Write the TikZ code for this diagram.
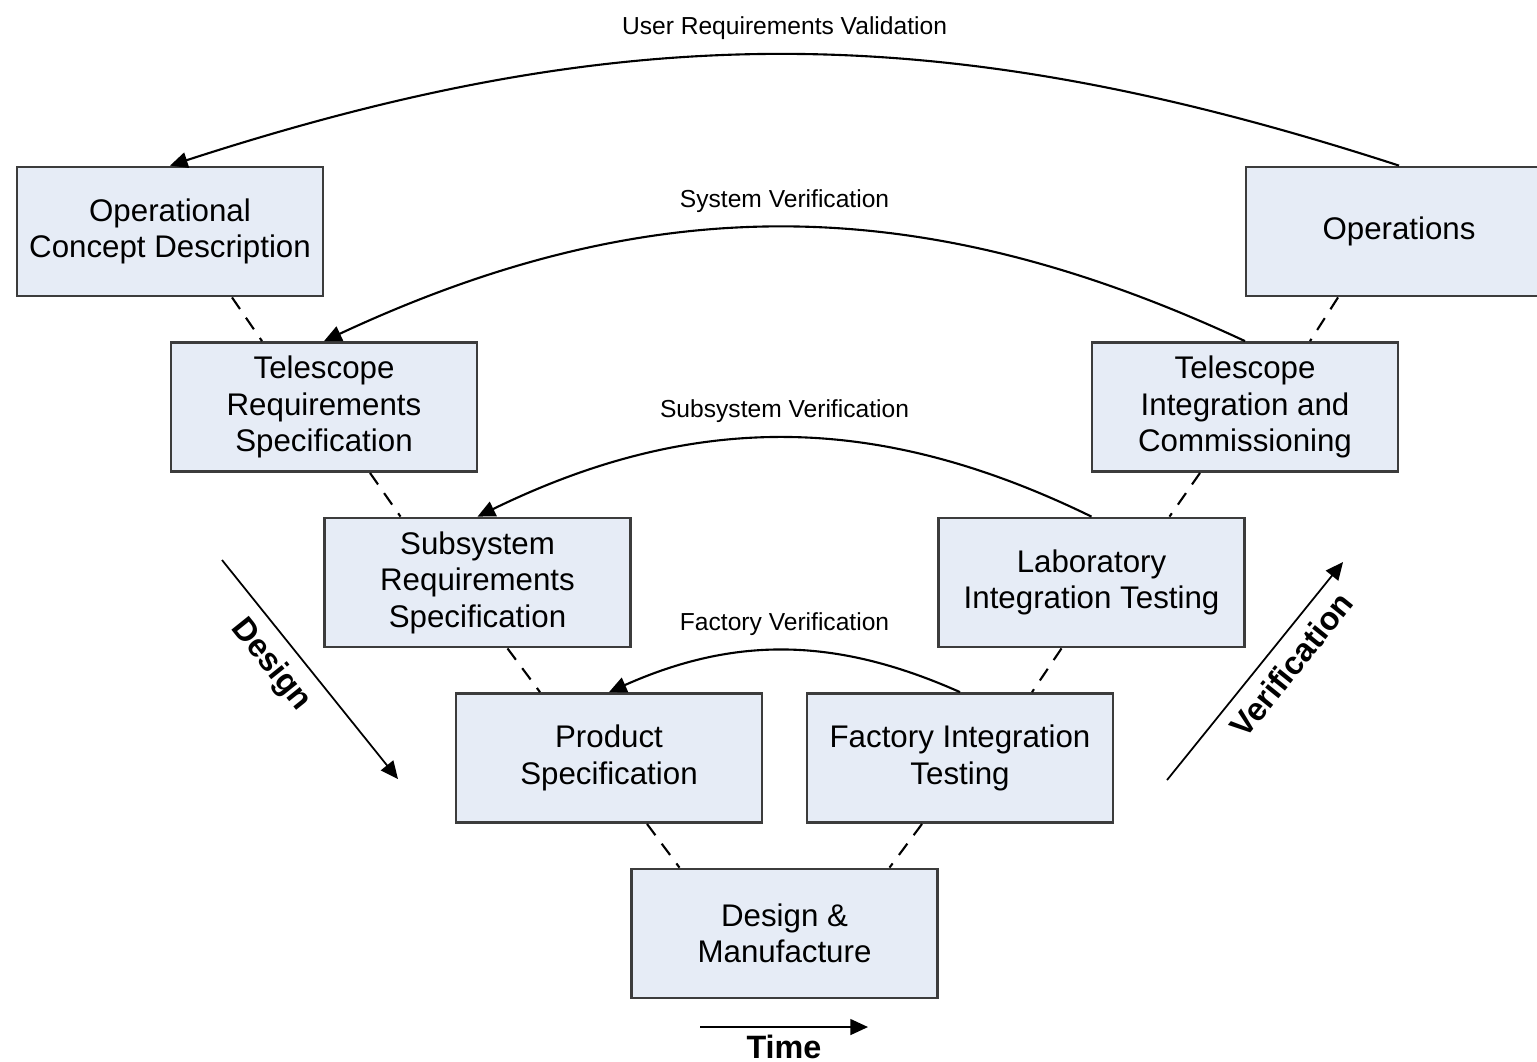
\documentclass[tikz,border=0pt]{standalone}
\usepackage{fontspec}
\setmainfont{Liberation Sans}
\usetikzlibrary{arrows.meta}
\definecolor{boxfill}{HTML}{E6ECF6}
\definecolor{boxline}{HTML}{3C3C3C}

\begin{document}
\begin{tikzpicture}[
  stage/.style={draw=boxline, line width=0.8pt, fill=boxfill, minimum width=3.06cm, minimum height=1.29cm, align=center, font=\fontsize{8.9}{10.4}\selectfont},
  check/.style={line width=0.6pt, -{Triangle[length=5pt,width=4.5pt]}},
  checklabel/.style={font=\fontsize{7}{8}\selectfont, above, inner sep=4pt},
  tie/.style={line width=0.6pt, dash pattern=on 4pt off 3pt},
  trend/.style={line width=0.5pt, -{Triangle[length=5pt,width=4.5pt]}},
  trendlabel/.style={font=\bfseries\fontsize{9.2}{10}\selectfont}
]
\clip (0,0) rectangle (15.37,-10.61);

\node[stage] (ocd) at (1.70,-2.315) {Operational\\Concept Description};
\node[stage] (ops) at (13.99,-2.315) {Operations};
\node[stage] (trs) at (3.24,-4.07) {Telescope\\Requirements\\Specification};
\node[stage] (tic) at (12.45,-4.07) {Telescope\\Integration and\\Commissioning};
\node[stage] (srs) at (4.775,-5.825) {Subsystem\\Requirements\\Specification};
\node[stage] (lit) at (10.915,-5.825) {Laboratory\\Integration Testing};
\node[stage] (ps) at (6.09,-7.58) {Product\\Specification};
\node[stage] (fit) at (9.60,-7.58) {Factory Integration\\Testing};
\node[stage] (dm) at (7.845,-9.335) {Design \&\\Manufacture};

% left leg
\draw[tie] ([xshift=0.62cm]ocd.south) -- ([xshift=-0.62cm]trs.north);
\draw[tie] ([xshift=0.46cm]trs.south) -- ([xshift=-0.77cm]srs.north);
\draw[tie] ([xshift=0.30cm]srs.south) -- ([xshift=-0.69cm]ps.north);
\draw[tie] ([xshift=0.38cm]ps.south) -- ([xshift=-1.05cm]dm.north);
% right leg
\draw[tie] ([xshift=-0.61cm]ops.south) -- ([xshift=0.65cm]tic.north);
\draw[tie] ([xshift=-0.45cm]tic.south) -- ([xshift=0.78cm]lit.north);
\draw[tie] ([xshift=-0.30cm]lit.south) -- ([xshift=0.72cm]fit.north);
\draw[tie] ([xshift=-0.38cm]fit.south) -- ([xshift=1.05cm]dm.north);

\draw[check] (ops.north) to[bend right=18] node[checklabel] {User Requirements Validation} (ocd.north);
\draw[check] (tic.north) to[bend right=25] node[checklabel] {System Verification} (trs.north);
\draw[check] (lit.north) to[bend right=26] node[checklabel] {Subsystem Verification} (srs.north);
\draw[check] (fit.north) to[bend right=24] node[checklabel] {Factory Verification} (ps.north);

\coordinate (d1) at (2.22,-5.60);
\coordinate (d2) at (3.98,-7.79);
\coordinate (v1) at (11.67,-7.80);
\coordinate (v2) at (13.43,-5.62);
\coordinate (t1) at (7.00,-10.27);
\coordinate (t2) at (8.68,-10.27);
\draw[trend] (d1) -- node[trendlabel, sloped, below, pos=0.4] {Design} (d2);
\draw[trend] (v1) -- node[trendlabel, sloped, below, pos=0.6] {Verification} (v2);
\draw[trend] (t1) -- node[trendlabel, below, inner sep=2pt] {Time} (t2);
\end{tikzpicture}
\end{document}
